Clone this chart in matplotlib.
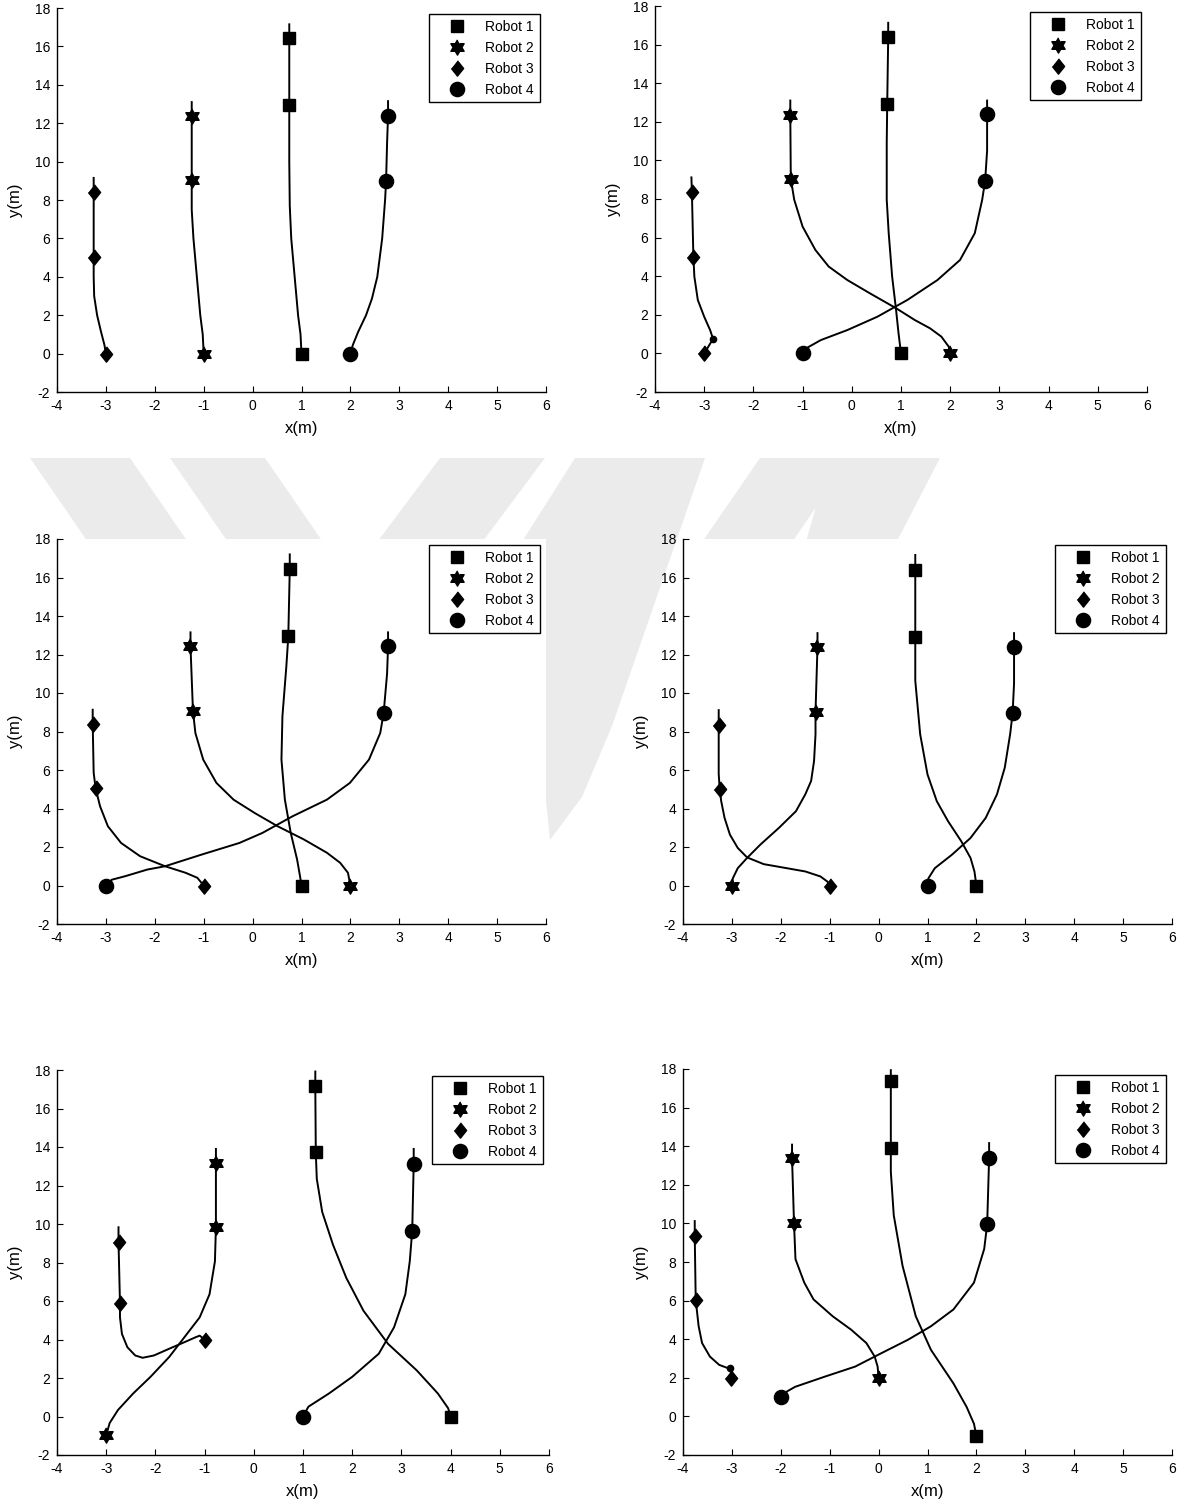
import numpy as np
import matplotlib
matplotlib.use("Agg")
import matplotlib.pyplot as plt
from matplotlib.lines import Line2D
from matplotlib.patches import Polygon

plt.rcParams['font.family'] = ['Liberation Sans', 'DejaVu Sans']
plt.rcParams['axes.unicode_minus'] = False

# Robot trajectories for six runs (x, y in metres), start point first.
# Each run: four robots, paths given as lists of (x, y) points.
# run (a) ---------------------------------------------------------------------
a_r1 = [(1, 0), (0.98, 1), (0.93, 2), (0.86, 4), (0.79, 6), (0.76, 7.7), (0.75, 10),
        (0.75, 12.95), (0.75, 16.45), (0.75, 17.15)]
a_r2 = [(-1, 0), (-1.02, 1), (-1.07, 2), (-1.14, 4), (-1.21, 6), (-1.245, 7.5),
        (-1.245, 9.05), (-1.245, 12.4), (-1.245, 13.1)]
a_r3 = [(-3, 0), (-3.03, 0.45), (-3.1, 1.14), (-3.18, 2), (-3.24, 3), (-3.25, 4),
        (-3.25, 5.05), (-3.25, 8.4), (-3.25, 9.15)]
a_r4 = [(2, 0), (2.05, 0.45), (2.16, 1.14), (2.32, 2), (2.44, 2.86), (2.55, 4), (2.65, 6),
        (2.71, 8.03), (2.73, 9.0), (2.75, 10.97), (2.77, 12.4), (2.77, 13.15)]
a_marks = [[(0.75, 12.95), (0.75, 16.45)], [(-1.245, 9.05), (-1.245, 12.4)],
           [(-3.25, 5.05), (-3.25, 8.4)], [(2.73, 9.0), (2.77, 12.4)]]

# run (b) ---------------------------------------------------------------------
b_r1 = [(1, 0), (0.95, 1.04), (0.9, 2.25), (0.82, 3.98), (0.75, 6.23), (0.71, 7.96),
        (0.71, 10.9), (0.72, 12.94), (0.74, 16.4), (0.74, 17.13)]
b_r2 = [(2, 0), (1.97, 0.35), (1.82, 0.87), (1.59, 1.3), (1.28, 1.73), (0.9, 2.34),
        (0.37, 3.11), (-0.09, 3.8), (-0.47, 4.5), (-0.74, 5.36), (-1.0, 6.57),
        (-1.17, 7.96), (-1.24, 9.05), (-1.25, 12.37), (-1.25, 13.1)]
b_r3 = [(-3, 0), (-2.82, 0.75), (-2.88, 1.21), (-3.0, 1.9), (-3.13, 2.77), (-3.2, 3.98),
        (-3.22, 5.02), (-3.25, 8.36), (-3.26, 9.12)]
b_r4 = [(-1, 0), (-0.93, 0.26), (-0.63, 0.69), (-0.09, 1.21), (0.52, 1.9), (1.13, 2.77),
        (1.74, 3.8), (2.2, 4.84), (2.5, 6.23), (2.65, 7.96), (2.71, 8.94), (2.75, 10.5),
        (2.75, 12.4), (2.75, 13.1)]
b_marks = [[(0.72, 12.94), (0.74, 16.4)], [(-1.24, 9.05), (-1.25, 12.37)],
           [(-3.22, 5.02), (-3.25, 8.36)], [(2.71, 8.94), (2.75, 12.4)]]
b_kink = [(-2.82, 0.75)]

# run (c) ---------------------------------------------------------------------
c_r1 = [(1, 0), (0.97, 0.48), (0.91, 1.35), (0.78, 2.73), (0.66, 4.46), (0.59, 6.54),
        (0.61, 8.79), (0.69, 11.38), (0.73, 12.94), (0.76, 16.44), (0.76, 17.2)]
c_r2 = [(2, 0), (1.95, 0.66), (1.79, 1.18), (1.52, 1.7), (1.05, 2.39), (0.51, 3.08),
        (0.04, 3.77), (-0.39, 4.46), (-0.74, 5.33), (-1.01, 6.54), (-1.17, 7.92),
        (-1.22, 9.08), (-1.27, 12.42), (-1.27, 13.15)]
c_r3 = [(-1, 0), (-1.13, 0.4), (-1.37, 0.66), (-1.79, 1.0), (-2.3, 1.52), (-2.69, 2.21),
        (-2.96, 3.08), (-3.12, 4.12), (-3.21, 5.05), (-3.25, 5.85), (-3.27, 8.39),
        (-3.27, 9.13)]
c_r4 = [(-3, 0), (-2.88, 0.3), (-2.61, 0.48), (-2.15, 0.83), (-1.79, 1.0), (-1.05, 1.6),
        (-0.27, 2.21), (0.2, 2.73), (0.82, 3.6), (1.52, 4.46), (1.99, 5.33), (2.38, 6.54),
        (2.61, 7.92), (2.68, 8.96), (2.75, 11), (2.77, 12.42), (2.77, 13.15)]
c_marks = [[(0.73, 12.94), (0.76, 16.44)], [(-1.22, 9.08), (-1.27, 12.42)],
           [(-3.21, 5.05), (-3.27, 8.39)], [(2.68, 8.96), (2.77, 12.42)]]

# run (d) ---------------------------------------------------------------------
d_r1 = [(2, 0), (1.96, 0.73), (1.88, 1.43), (1.69, 2.3), (1.42, 3.34), (1.19, 4.38),
        (1.0, 5.77), (0.85, 7.86), (0.75, 10.64), (0.75, 12.9), (0.75, 16.38), (0.75, 17.17)]
d_r2 = [(-3, 0), (-2.98, 0.38), (-2.88, 0.9), (-2.69, 1.43), (-2.42, 2.12), (-2.04, 2.99),
        (-1.69, 3.86), (-1.5, 4.73), (-1.38, 5.43), (-1.32, 6.47), (-1.29, 7.86),
        (-1.29, 9.03), (-1.25, 12.38), (-1.25, 13.11)]
d_r3 = [(-1, 0), (-1.05, 0.21), (-1.19, 0.47), (-1.5, 0.73), (-1.88, 0.9), (-2.35, 1.11),
        (-2.69, 1.46), (-2.88, 1.95), (-3.04, 2.64), (-3.15, 3.51), (-3.22, 4.4),
        (-3.25, 5.03), (-3.27, 5.8), (-3.27, 8.35), (-3.27, 9.11)]
d_r4 = [(1, 0), (1.02, 0.38), (1.15, 0.9), (1.5, 1.6), (1.88, 2.47), (2.19, 3.51),
        (2.42, 4.73), (2.58, 6.12), (2.69, 7.86), (2.74, 8.94), (2.77, 10.5),
        (2.77, 12.38), (2.77, 13.11)]
d_marks = [[(0.75, 12.9), (0.75, 16.38)], [(-1.29, 9.03), (-1.25, 12.38)],
           [(-3.25, 5.03), (-3.27, 8.35)], [(2.74, 8.94), (2.77, 12.38)]]

# run (e) ---------------------------------------------------------------------
e_r1 = [(4, 0), (3.95, 0.43), (3.74, 1.2), (3.31, 2.4), (2.73, 3.77), (2.23, 5.49),
        (1.88, 7.2), (1.61, 8.92), (1.39, 10.63), (1.28, 12.35), (1.26, 13.72),
        (1.25, 17.15), (1.25, 17.92)]
e_r2 = [(-3, -0.98), (-2.93, -0.34), (-2.76, 0.34), (-2.45, 1.2), (-2.1, 2.06),
        (-1.72, 3.09), (-1.41, 4.12), (-1.1, 5.15), (-0.9, 6.35), (-0.79, 8.06),
        (-0.77, 9.83), (-0.77, 13.16), (-0.77, 13.9)]
e_r3 = [(-1, 4.0), (-1.1, 4.2), (-1.18, 4.12), (-1.41, 3.86), (-1.72, 3.52), (-2.03, 3.17),
        (-2.26, 3.05), (-2.41, 3.17), (-2.57, 3.6), (-2.68, 4.29), (-2.72, 5.15),
        (-2.72, 5.88), (-2.75, 9.09), (-2.75, 9.83)]
e_r4 = [(1, 0), (1.11, 0.51), (1.53, 1.2), (2.0, 2.06), (2.54, 3.26), (2.85, 4.63),
        (3.08, 6.35), (3.17, 8.06), (3.22, 9.66), (3.25, 13.12), (3.25, 13.9)]
e_marks = [[(1.26, 13.72), (1.25, 17.15)], [(-0.77, 9.83), (-0.77, 13.16)],
           [(-2.72, 5.88), (-2.75, 9.09)], [(3.22, 9.66), (3.25, 13.12)]]

# run (f) ---------------------------------------------------------------------
f_r1 = [(2, -1.01), (1.95, -0.38), (1.8, 0.49), (1.53, 1.71), (1.07, 3.45), (0.76, 5.19),
        (0.49, 7.8), (0.31, 10.42), (0.25, 12.68), (0.25, 13.9), (0.25, 17.39), (0.25, 17.94)]
f_r2 = [(0, 2.0), (-0.02, 2.58), (-0.08, 3.1), (-0.25, 3.8), (-0.56, 4.49), (-0.94, 5.19),
        (-1.33, 6.06), (-1.52, 6.93), (-1.7, 8.15), (-1.73, 10.03), (-1.77, 13.38),
        (-1.77, 14.08)]
f_r3 = [(-3.01, 2.0), (-3.03, 2.49), (-3.07, 2.49), (-3.26, 2.67), (-3.45, 3.1),
        (-3.61, 3.8), (-3.68, 4.67), (-3.74, 6.03), (-3.76, 9.37), (-3.76, 10.12)]
f_r4 = [(-2, 1.01), (-1.95, 1.18), (-1.71, 1.53), (-1.1, 2.06), (-0.48, 2.58), (0.06, 3.28),
        (0.6, 3.97), (1.07, 4.67), (1.53, 5.54), (1.95, 6.93), (2.16, 8.68), (2.22, 9.95),
        (2.26, 13.38), (2.26, 14.16)]
f_marks = [[(0.25, 13.9), (0.25, 17.39)], [(-1.73, 10.03), (-1.77, 13.38)],
           [(-3.74, 6.03), (-3.76, 9.37)], [(2.22, 9.95), (2.26, 13.38)]]
f_kink = [(-3.03, 2.49)]

labels = ['Robot 1', 'Robot 2', 'Robot 3', 'Robot 4']
xticks = list(range(-4, 7))
yticks = list(range(-2, 19, 2))

# marker shapes: square, six-point star, diamond, circle --------------------
ang = np.deg2rad(90 + 30*np.arange(12))
rad = np.where(np.arange(12) % 2 == 0, 1.0, 0.577)
hexagram = list(zip(rad*np.cos(ang), rad*np.sin(ang)))
diamond = [(0, 1), (0.8, 0), (0, -1), (-0.8, 0)]
mstyle = [dict(marker='s', ms=8.3), dict(marker=hexagram, ms=11),
          dict(marker=diamond, ms=11), dict(marker='o', ms=10.2)]

W, H = 1187, 1510
fig = plt.figure(figsize=(W/100, H/100), dpi=100)

def px_rect(l, t, r, b):
    return [l/W, 1 - b/H, (r - l)/W, (b - t)/H]

# faint background stripes, kept behind the white axes ----------------------
stripes = [
    [(30, 458), (130, 458), (190, 545), (90, 545)],
    [(170, 458), (265, 458), (325, 545), (230, 545)],
    [(440, 458), (545, 458), (480, 545), (375, 545)],
    [(575, 458), (705, 458), (612, 726), (582, 797), (550, 840), (520, 545)],
    [(760, 458), (850, 458), (790, 545), (700, 545)],
    [(830, 458), (940, 458), (895, 545), (805, 545)],
]
for pts in stripes:
    fig.patches.append(Polygon([(x/W, 1 - y/H) for x, y in pts], closed=True,
                               transform=fig.transFigure, facecolor='#ebebeb',
                               edgecolor='none', zorder=-5))

boxes = [(57, 8, 546, 392), (655, 6, 1147, 392),
         (57, 539, 546, 924), (683, 539, 1172, 924),
         (57, 1070, 549, 1455), (683, 1069, 1172, 1455)]
runs = [[a_r1, a_r2, a_r3, a_r4], [b_r1, b_r2, b_r3, b_r4],
        [c_r1, c_r2, c_r3, c_r4], [d_r1, d_r2, d_r3, d_r4],
        [e_r1, e_r2, e_r3, e_r4], [f_r1, f_r2, f_r3, f_r4]]
marks = [a_marks, b_marks, c_marks, d_marks, e_marks, f_marks]
kinks = [[], b_kink, [], [], [], f_kink]

for box, paths, mk, kk in zip(boxes, runs, marks, kinks):
    ax = fig.add_axes(px_rect(*box))
    ax.set_zorder(1)
    for k, path in enumerate(paths):
        xs, ys = zip(*path)
        ax.plot(xs, ys, '-', color='k', lw=1.4, zorder=2)
        px = [xs[0]] + [p[0] for p in mk[k]]
        py = [ys[0]] + [p[1] for p in mk[k]]
        ax.plot(px, py, ls='none', color='k', mec='k', zorder=3, **mstyle[k])
    for p in kk:
        ax.plot(p[0], p[1], 'o', color='k', ms=4.5, zorder=3)

    ax.set_xlim(-4, 6)
    ax.set_ylim(-2, 18)
    ax.set_xticks(xticks)
    ax.set_yticks(yticks)
    ax.spines['top'].set_visible(False)
    ax.spines['right'].set_visible(False)
    for s in ['left', 'bottom']:
        ax.spines[s].set_linewidth(1.0)
    ax.tick_params(direction='in', length=4, width=0.8, labelsize=10,
                   top=False, right=False)
    ax.tick_params(axis='x', pad=5)
    ax.tick_params(axis='y', pad=5)
    ax.set_xlabel('x(m)', fontsize=12, labelpad=6)
    ax.set_ylabel('y(m)', fontsize=12, labelpad=8)

    handles = [Line2D([], [], ls='none', color='k', **mstyle[k]) for k in range(4)]
    leg = ax.legend(handles, labels, loc='upper right', fontsize=10,
                    frameon=True, fancybox=False, framealpha=1,
                    edgecolor='k', borderaxespad=0.45, borderpad=0.4,
                    labelspacing=0.5, handlelength=3.3, handletextpad=0.4)
    leg.get_frame().set_linewidth(1.0)

fig.savefig('out.png', dpi=100, facecolor='white')
